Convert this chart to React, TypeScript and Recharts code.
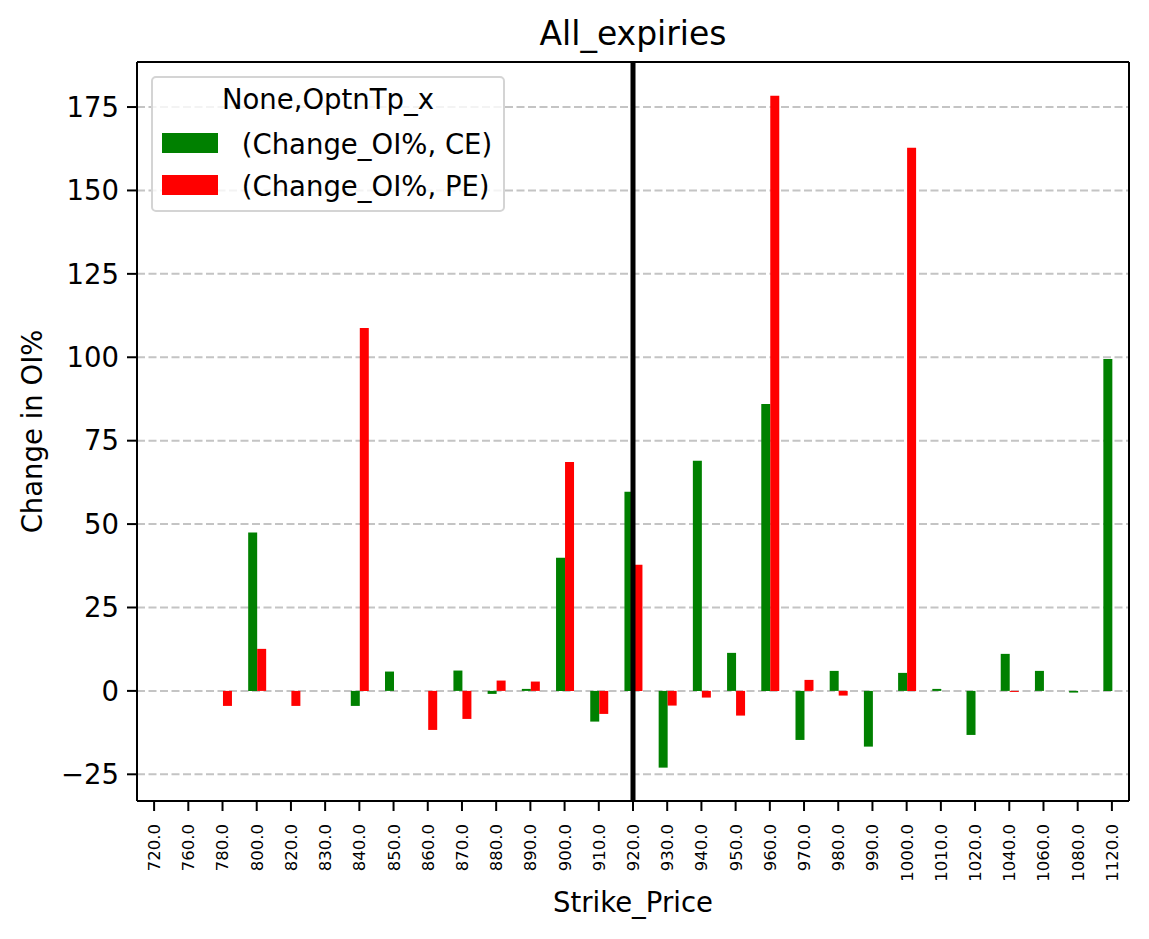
import React from 'react'
import {
  BarChart,
  Bar,
  XAxis,
  YAxis,
  CartesianGrid,
  ReferenceLine,
  Legend,
} from 'recharts'

// strike prices (category axis)
const strikes = [
  '720.0', '760.0', '780.0', '800.0', '820.0', '830.0', '840.0', '850.0', '860.0', '870.0',
  '880.0', '890.0', '900.0', '910.0', '920.0', '930.0', '940.0', '950.0', '960.0', '970.0',
  '980.0', '990.0', '1000.0', '1010.0', '1020.0', '1040.0', '1060.0', '1080.0', '1120.0',
]

// % change in open interest, calls
const ceChange: (number | null)[] = [
  null, null, null, 47.5, null, null, -4.5, 5.8, null, 6.1,
  -0.9, 0.6, 39.9, -9.2, 59.7, -23.0, 69.0, 11.4, 86.0, -14.7,
  6.0, -16.7, 5.4, 0.6, -13.2, 11.1, 6.0, -0.5, 99.5,
]

// % change in open interest, puts
const peChange: (number | null)[] = [
  null, null, -4.5, 12.6, -4.5, null, 108.8, null, -11.7, -8.4,
  3.1, 2.8, 68.6, -6.9, 37.8, -4.4, -2.0, -7.4, 178.4, 3.3,
  -1.4, null, 162.8, null, null, -0.3, null, null, null,
]

const yTicks = [-25, 0, 25, 50, 75, 100, 125, 150, 175]
const spotStrike = '920.0'

const data = strikes.map((s, i) => ({ strike: s, ce: ceChange[i], pe: peChange[i] }))

const FONT = 'DejaVu Sans, sans-serif'
const CE_COLOR = '#008000'
const PE_COLOR = '#ff0000'

const StrikeTick = (props: any) => {
  const { x, y, payload } = props
  return (
    <g transform={`translate(${x},${y}) rotate(-90)`}>
      <text textAnchor="end" dy="0.36em" fontSize={16.5} fontFamily={FONT} fill="#000">
        {payload.value}
      </text>
    </g>
  )
}

const legendItems = [
  { label: ' (Change_OI%, CE)', color: CE_COLOR },
  { label: ' (Change_OI%, PE)', color: PE_COLOR },
]

const LegendBox = () => (
  <div
    style={{
      position: 'relative',
      width: 354,
      height: 136,
      boxSizing: 'border-box',
      border: '2px solid #d4d4d4',
      borderRadius: 5,
      background: 'rgba(255,255,255,0.8)',
      fontFamily: FONT,
      fontSize: 27.5,
      lineHeight: '32px',
      color: '#000',
    }}
  >
    <div style={{ position: 'absolute', top: 5, left: 0, width: '100%', textAlign: 'center' }}>
      None,OptnTp_x
    </div>
    {legendItems.map((item, i) => (
      <React.Fragment key={item.label}>
        <div
          style={{
            position: 'absolute',
            left: 9,
            top: 55 + i * 42,
            width: 56,
            height: 20,
            background: item.color,
          }}
        />
        <div style={{ position: 'absolute', left: 80, top: 50 + i * 42, whiteSpace: 'pre' }}>
          {item.label}
        </div>
      </React.Fragment>
    ))}
  </div>
)

export default function App() {
  return (
    <div style={{ position: 'absolute', left: 0, top: 0, width: 1149, height: 939, background: '#fff' }}>
      <div
        style={{
          position: 'absolute',
          left: 137,
          width: 992,
          top: 14,
          textAlign: 'center',
          fontFamily: FONT,
          fontSize: 33,
          lineHeight: '40px',
          color: '#000',
        }}
      >
        All_expiries
      </div>
      <BarChart
        width={1149}
        height={939}
        data={data}
        margin={{ top: 61, right: 19, bottom: 0, left: 27 }}
        barCategoryGap="25%"
        barGap={0}
      >
        <CartesianGrid
          vertical={false}
          stroke="#c4c4c4"
          strokeWidth={2}
          strokeDasharray="8 3.5"
        />
        <XAxis
          dataKey="strike"
          interval={0}
          height={138}
          tick={<StrikeTick />}
          tickSize={10}
          tickMargin={13}
          tickLine={{ stroke: '#000', strokeWidth: 2 }}
          axisLine={{ stroke: '#000', strokeWidth: 2 }}
          label={{
            value: 'Strike_Price',
            position: 'insideBottom',
            offset: 27,
            fontSize: 27.5,
            fontFamily: FONT,
            fill: '#000',
          }}
        />
        <XAxis
          xAxisId="top"
          dataKey="strike"
          orientation="top"
          height={1}
          tick={false}
          tickLine={false}
          axisLine={{ stroke: '#000', strokeWidth: 2 }}
        />
        <YAxis
          width={110}
          domain={[-33, 188.5]}
          ticks={yTicks}
          allowDataOverflow
          tickSize={10}
          tickMargin={8}
          tick={{ fontSize: 27.5, fontFamily: FONT, fill: '#000' }}
          tickLine={{ stroke: '#000', strokeWidth: 2 }}
          axisLine={{ stroke: '#000', strokeWidth: 2 }}
          tickFormatter={(v: number) => (v < 0 ? `\u2212${Math.abs(v)}` : `${v}`)}
          label={{
            value: 'Change in OI%',
            angle: -90,
            position: 'insideLeft',
            fontSize: 27.5,
            fontFamily: FONT,
            fill: '#000',
            style: { textAnchor: 'middle' },
          }}
        />
        <YAxis
          yAxisId="right"
          orientation="right"
          width={1}
          domain={[-33, 188.5]}
          tick={false}
          tickLine={false}
          axisLine={{ stroke: '#000', strokeWidth: 2 }}
        />
        <Legend
          layout="horizontal"
          verticalAlign="middle"
          align="center"
          content={<LegendBox />}
          wrapperStyle={{ position: 'absolute', left: 151, top: 76, width: 354, height: 136 }}
        />
        <Bar dataKey="ce" name=" (Change_OI%, CE)" fill={CE_COLOR} isAnimationActive={false} />
        <Bar dataKey="pe" name=" (Change_OI%, PE)" fill={PE_COLOR} isAnimationActive={false} />
        <ReferenceLine x={spotStrike} stroke="#000" strokeWidth={5} />
      </BarChart>
    </div>
  )
}
